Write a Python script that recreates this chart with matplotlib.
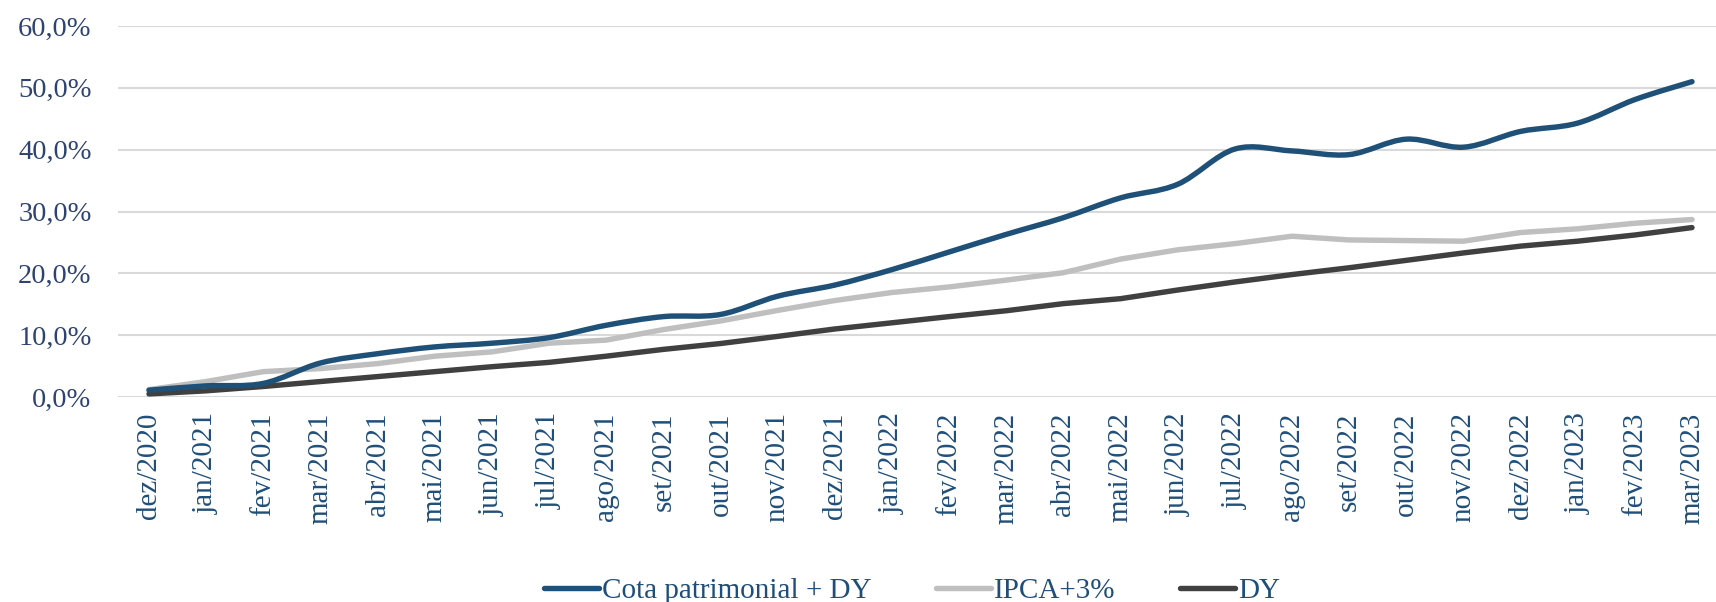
import matplotlib
matplotlib.use("Agg")
import matplotlib.pyplot as plt
import numpy as np
from matplotlib.path import Path
from matplotlib.patches import PathPatch
from matplotlib.lines import Line2D
from matplotlib.ticker import FuncFormatter

categories = ["dez/2020", "jan/2021", "fev/2021", "mar/2021", "abr/2021", "mai/2021",
              "jun/2021", "jul/2021", "ago/2021", "set/2021", "out/2021", "nov/2021",
              "dez/2021", "jan/2022", "fev/2022", "mar/2022", "abr/2022", "mai/2022",
              "jun/2022", "jul/2022", "ago/2022", "set/2022", "out/2022", "nov/2022",
              "dez/2022", "jan/2023", "fev/2023", "mar/2023"]

cota_dy = [1.1, 1.8, 2.2, 5.5, 7.0, 8.1, 8.7, 9.6, 11.6, 13.0, 13.35, 16.3, 18.1, 20.6,
           23.45, 26.3, 29.0, 32.2, 34.4, 40.1, 39.8, 39.2, 41.7, 40.4, 42.95, 44.3,
           48.1, 51.0]
ipca3 = [1.2, 2.5, 4.1, 4.6, 5.4, 6.6, 7.3, 8.7, 9.2, 10.9, 12.3, 14.0, 15.6, 16.9,
         17.8, 18.9, 20.1, 22.3, 23.8, 24.8, 26.0, 25.4, 25.3, 25.2, 26.6, 27.2, 28.1, 28.7]
dy = [0.5, 1.0, 1.7, 2.5, 3.3, 4.1, 4.9, 5.6, 6.6, 7.7, 8.65, 9.8, 11.0, 12.0, 13.0,
      13.95, 15.1, 15.9, 17.3, 18.6, 19.8, 20.9, 22.1, 23.3, 24.4, 25.2, 26.2, 27.4]

series_names = ["Cota patrimonial + DY", "IPCA+3%", "DY"]
yticks = [0, 10, 20, 30, 40, 50, 60]

C_BLUE = "#1F5078"
C_GRAY = "#BFBFBF"
C_DARK = "#404040"
C_YTXT = "#2E4372"
C_XTXT = "#1F4E79"
FONT = "Liberation Serif"

W, H = 1716, 602
fig = plt.figure(figsize=(W / 100, H / 100), dpi=100)
ax = fig.add_axes([118 / W, (H - 397) / H, (W - 118) / W, (397 - 26) / H])

x = np.arange(len(categories))
lw = 3.9

# smooth path for the blue series (Catmull-Rom -> cubic Bezier)
def smooth_path(xs, ys):
    xs = np.asarray(xs, float)
    ys = np.asarray(ys, float)
    pts = np.column_stack([xs, ys])
    verts = [pts[0]]
    codes = [Path.MOVETO]
    n = len(pts)
    for i in range(n - 1):
        p0 = pts[i - 1] if i > 0 else pts[i]
        p1 = pts[i]
        p2 = pts[i + 1]
        p3 = pts[i + 2] if i + 2 < n else pts[i + 1]
        c1 = p1 + (p2 - p0) / 6.0
        c2 = p2 - (p3 - p1) / 6.0
        verts += [c1, c2, p2]
        codes += [Path.CURVE4] * 3
    return Path(verts, codes)

ax.plot(x, ipca3, color=C_GRAY, lw=lw, solid_capstyle="round", solid_joinstyle="round", zorder=3)
ax.plot(x, dy, color=C_DARK, lw=lw, solid_capstyle="round", solid_joinstyle="round", zorder=4)
patch = PathPatch(smooth_path(x, cota_dy), facecolor="none", edgecolor=C_BLUE, lw=lw,
                  capstyle="round", joinstyle="round", zorder=5)
ax.add_patch(patch)

ax.set_xlim(-0.542, 27.42)
ax.set_ylim(0, 60)
ax.set_yticks(yticks)
ax.yaxis.set_major_formatter(FuncFormatter(lambda v, p: f"{v:.1f}%".replace(".", ",")))
ax.set_xticks(x)
ax.set_xticklabels(categories, rotation=90, va="top", ha="center")
ax.grid(axis="y", color="#D9D9D9", lw=1.5)
ax.set_axisbelow(True)
for s in ax.spines.values():
    s.set_visible(False)
ax.tick_params(axis="both", length=0)
ax.tick_params(axis="y", pad=19, labelsize=20.5, labelcolor=C_YTXT)
ax.tick_params(axis="x", pad=11, labelsize=21, labelcolor=C_XTXT)
for lab in ax.get_yticklabels() + ax.get_xticklabels():
    lab.set_fontfamily(FONT)

handles = [Line2D([], [], color=C_BLUE, lw=lw, solid_capstyle="round"),
           Line2D([], [], color=C_GRAY, lw=lw, solid_capstyle="round"),
           Line2D([], [], color=C_DARK, lw=lw, solid_capstyle="round")]
leg = fig.legend(handles, series_names, loc="center", bbox_to_anchor=(912 / W, 1 - 591 / H),
                 ncol=3, frameon=False, handlelength=1.9, handletextpad=0.1,
                 columnspacing=2.2, borderpad=0, prop={"family": FONT, "size": 21})
for t in leg.get_texts():
    t.set_color(C_XTXT)

fig.savefig("out.png", dpi=100)
